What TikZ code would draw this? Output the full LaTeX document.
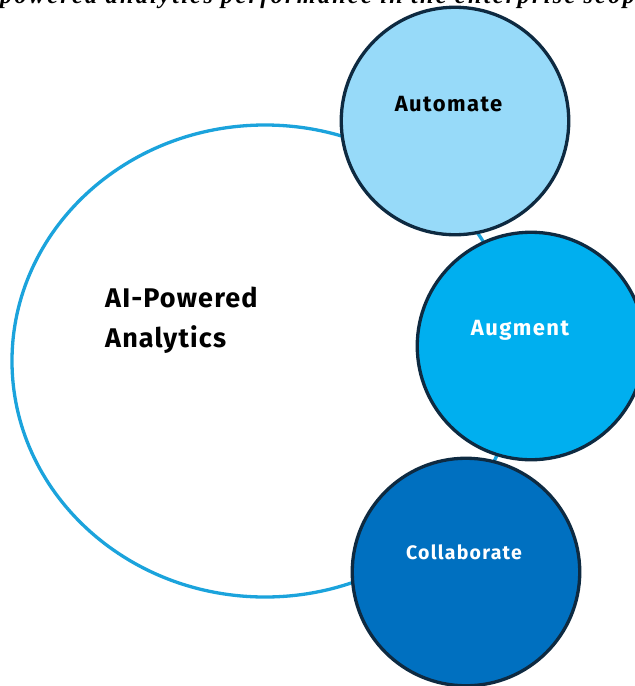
\documentclass[tikz,border=0pt]{standalone}
\usepackage{fontspec}
\setmainfont{Fira Sans}
\newfontfamily\bigfont[LetterSpace=4.2]{Fira Sans}
\newfontfamily\smallfont[LetterSpace=6.5]{Fira Sans}
\newfontfamily\capfont[LetterSpace=10]{Liberation Serif}
\definecolor{ringblue}{HTML}{1BA3DC}
\definecolor{edgedark}{HTML}{0E2A41}
\definecolor{lightfill}{HTML}{97DAF9}
\definecolor{midfill}{HTML}{00AFEF}
\definecolor{deepfill}{HTML}{0070C0}
\usetikzlibrary{shapes.geometric}
\tikzset{
  x=1pt,y=-1pt,
  bubble/.style={circle,draw=edgedark,line width=3.3pt,inner sep=0pt,minimum size=227.5pt},
  ring/.style={ellipse,draw=ringblue,line width=3.3pt,inner sep=0pt,minimum width=506pt,minimum height=472pt},
  lab/.style={inner sep=0pt,anchor=base},
  title/.style={inner sep=0pt,anchor=base west,black,font=\bigfont\bfseries\fontsize{27}{32}\selectfont}
}
\begin{document}
\begin{tikzpicture}
\useasboundingbox (0,0) rectangle (635,686);
\begin{scope}
\clip (0,0) rectangle (635,686);
\node[ring] (main) at (265,361) {};
\node[bubble,fill=lightfill] (auto) at (455,121) {};
\node[bubble,fill=midfill] (aug) at (531,346) {};
\node[bubble,fill=deepfill] (coll) at (466,572) {};
\node[font=\capfont\itshape\bfseries\fontsize{24}{28}\selectfont,inner sep=0pt,anchor=base west] (cap) at (0,3) {powered analytics performance in the enterprise scope};
\end{scope}
\node[lab,font=\smallfont\bfseries\fontsize{22}{26}\selectfont,black] (t1) at (448.5,111) {Automate};
\node[lab,font=\smallfont\bfseries\fontsize{22}{26}\selectfont,white] (t2) at (520,335) {Augment};
\node[lab,font=\smallfont\bfseries\fontsize{19.5}{23}\selectfont,white] (t3) at (464,559) {Collaborate};
\node[title] (t4) at (105,307) {AI-Powered};
\node[title] (t5) at (105,347) {Analytics};
\end{tikzpicture}
\end{document}
